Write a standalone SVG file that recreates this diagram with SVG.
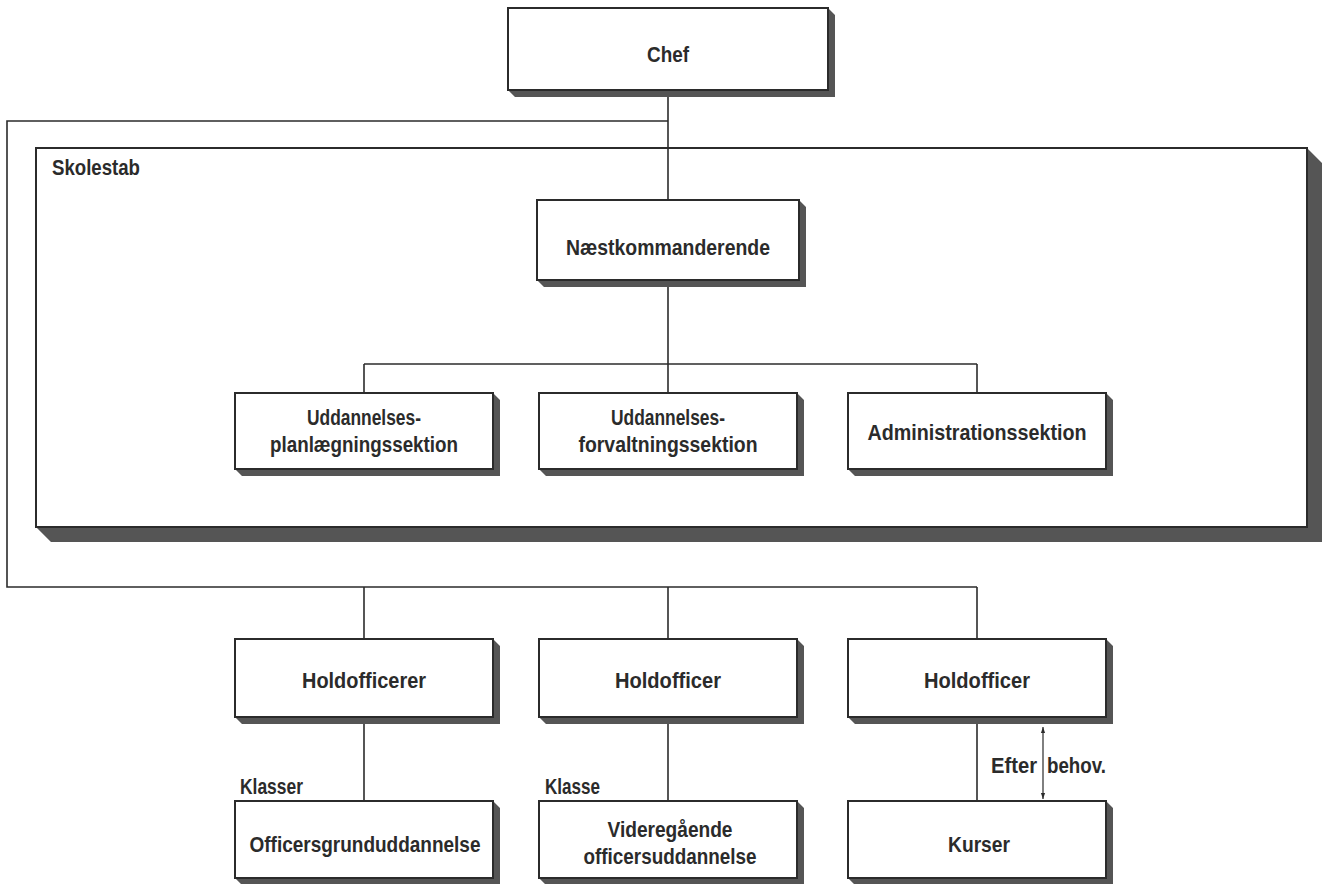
<svg xmlns="http://www.w3.org/2000/svg" width="1330" height="884" viewBox="0 0 1330 884">
<defs>
<style>
.box{fill:#fff;stroke:#2b2b2b;stroke-width:2}
.sh{fill:#555}
.ln{fill:none;stroke:#2b2b2b;stroke-width:1.6}
.thin{fill:none;stroke:#2b2b2b;stroke-width:1.2}
text{font-family:"Liberation Sans",Arial,sans-serif;font-weight:bold;font-size:22px;fill:#2b2b2b}
.c{text-anchor:middle}
</style>
<marker id="ah" viewBox="0 0 10 10" refX="10" refY="5" markerWidth="6" markerHeight="7" orient="auto-start-reverse" markerUnits="userSpaceOnUse">
<path d="M0,1.5 L10,5 L0,8.5 Z" fill="#2b2b2b"/>
</marker>
</defs>
<rect width="1330" height="884" fill="#fff"/>

<g id="skolestab">
<polygon class="sh" points="36,527 1307,527 1307,148 1322,163 1322,542 51,542"/>
<rect class="box" x="36" y="148" width="1271" height="379"/>
<text x="52" y="175" textLength="88" lengthAdjust="spacingAndGlyphs">Skolestab</text>
</g>

<g id="connectors">
<line class="ln" x1="668" y1="95" x2="668" y2="200"/>
<polyline class="ln" points="668,121 7,121 7,587 977,587"/>
<line class="ln" x1="364" y1="587" x2="364" y2="639"/>
<line class="ln" x1="668" y1="587" x2="668" y2="639"/>
<line class="ln" x1="977" y1="587" x2="977" y2="639"/>
<line class="ln" x1="668" y1="285" x2="668" y2="393"/>
<line class="ln" x1="364" y1="364" x2="977" y2="364"/>
<line class="ln" x1="364" y1="364" x2="364" y2="393"/>
<line class="ln" x1="977" y1="364" x2="977" y2="393"/>
<line class="ln" x1="364" y1="724" x2="364" y2="801"/>
<line class="ln" x1="668" y1="724" x2="668" y2="801"/>
<line class="ln" x1="977" y1="724" x2="977" y2="801"/>
<line class="thin" x1="1043" y1="727" x2="1043" y2="799" marker-start="url(#ah)" marker-end="url(#ah)"/>
</g>

<g id="chef">
<polygon class="sh" points="508,90 828,90 828,8 835,15 835,97 515,97"/>
<rect class="box" x="508" y="8" width="320" height="82"/>
<text class="c" x="668" y="62" textLength="42" lengthAdjust="spacingAndGlyphs">Chef</text>
</g>

<g id="naestkommanderende">
<polygon class="sh" points="537,280 799,280 799,200 806,207 806,287 544,287"/>
<rect class="box" x="537" y="200" width="262" height="80"/>
<text class="c" x="668" y="255" textLength="204" lengthAdjust="spacingAndGlyphs">Næstkommanderende</text>
</g>

<g id="uddannelsesplanlaegning">
<polygon class="sh" points="235,469 493,469 493,393 500,400 500,476 242,476"/>
<rect class="box" x="235" y="393" width="258" height="76"/>
<text class="c" x="364" y="425" textLength="114" lengthAdjust="spacingAndGlyphs">Uddannelses-</text>
<text class="c" x="364" y="452" textLength="188" lengthAdjust="spacingAndGlyphs">planlægningssektion</text>
</g>

<g id="uddannelsesforvaltning">
<polygon class="sh" points="539,469 797,469 797,393 804,400 804,476 546,476"/>
<rect class="box" x="539" y="393" width="258" height="76"/>
<text class="c" x="668" y="425" textLength="114" lengthAdjust="spacingAndGlyphs">Uddannelses-</text>
<text class="c" x="668" y="452" textLength="179" lengthAdjust="spacingAndGlyphs">forvaltningssektion</text>
</g>

<g id="administration">
<polygon class="sh" points="848,469 1106,469 1106,393 1113,400 1113,476 855,476"/>
<rect class="box" x="848" y="393" width="258" height="76"/>
<text class="c" x="977" y="440" textLength="219" lengthAdjust="spacingAndGlyphs">Administrationssektion</text>
</g>

<g id="holdofficerer">
<polygon class="sh" points="235,717 493,717 493,639 500,646 500,724 242,724"/>
<rect class="box" x="235" y="639" width="258" height="78"/>
<text class="c" x="364" y="688" textLength="124" lengthAdjust="spacingAndGlyphs">Holdofficerer</text>
</g>

<g id="holdofficer2">
<polygon class="sh" points="539,717 797,717 797,639 804,646 804,724 546,724"/>
<rect class="box" x="539" y="639" width="258" height="78"/>
<text class="c" x="668" y="688" textLength="106" lengthAdjust="spacingAndGlyphs">Holdofficer</text>
</g>

<g id="holdofficer3">
<polygon class="sh" points="848,717 1106,717 1106,639 1113,646 1113,724 855,724"/>
<rect class="box" x="848" y="639" width="258" height="78"/>
<text class="c" x="977" y="688" textLength="106" lengthAdjust="spacingAndGlyphs">Holdofficer</text>
</g>

<g id="officersgrunduddannelse">
<polygon class="sh" points="235,878 493,878 493,801 500,808 500,885 242,885"/>
<rect class="box" x="235" y="801" width="258" height="77"/>
<text x="240" y="794" textLength="63" lengthAdjust="spacingAndGlyphs">Klasser</text>
<text class="c" x="365" y="852" textLength="231" lengthAdjust="spacingAndGlyphs">Officersgrunduddannelse</text>
</g>

<g id="videregaaende">
<polygon class="sh" points="539,878 797,878 797,801 804,808 804,885 546,885"/>
<rect class="box" x="539" y="801" width="258" height="77"/>
<text x="545" y="794" textLength="55" lengthAdjust="spacingAndGlyphs">Klasse</text>
<text class="c" x="670" y="837" textLength="125" lengthAdjust="spacingAndGlyphs">Videregående</text>
<text class="c" x="670" y="864" textLength="173" lengthAdjust="spacingAndGlyphs">officersuddannelse</text>
</g>

<g id="kurser">
<polygon class="sh" points="848,878 1106,878 1106,801 1113,808 1113,885 855,885"/>
<rect class="box" x="848" y="801" width="258" height="77"/>
<text class="c" x="979" y="852" textLength="62" lengthAdjust="spacingAndGlyphs">Kurser</text>
</g>

<g id="efter-behov">
<text y="773"><tspan x="991" textLength="46" lengthAdjust="spacingAndGlyphs">Efter</tspan> <tspan x="1047" textLength="59" lengthAdjust="spacingAndGlyphs">behov.</tspan></text>
</g>
</svg>
